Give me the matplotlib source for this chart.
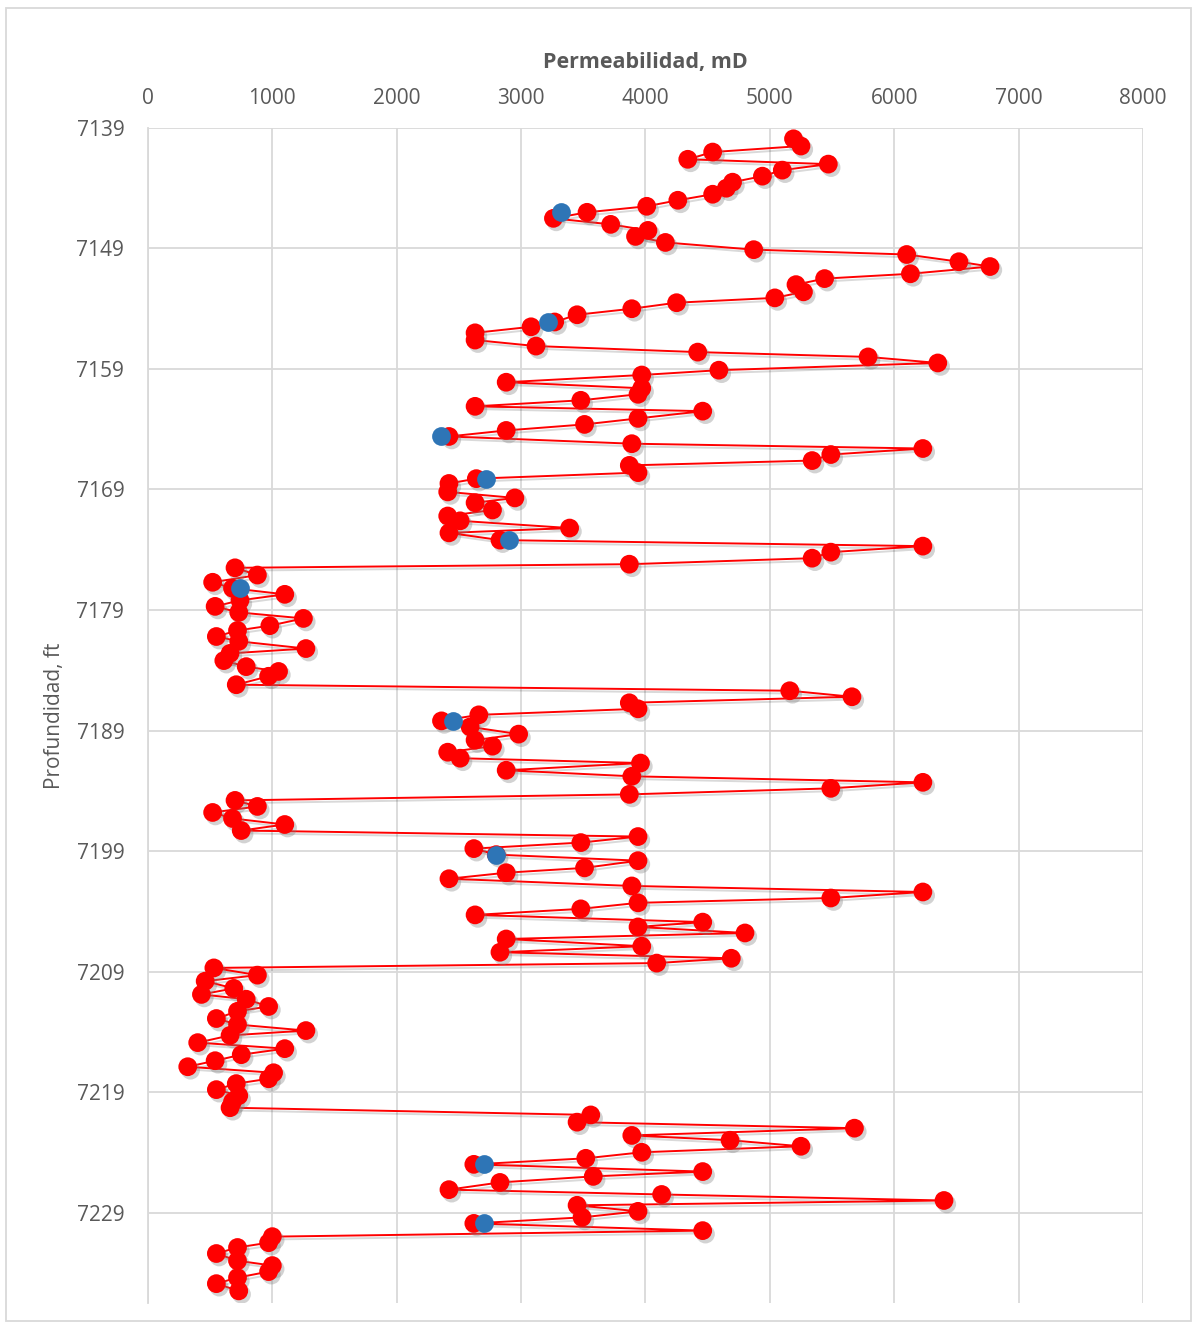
import matplotlib.pyplot as plt
import matplotlib.patheffects as pe
from matplotlib.patches import Rectangle

plt.rcParams['font.family'] = ['Open Sans', 'DejaVu Sans']

# profile data (red series)
prof = [7139.9, 7140.5, 7141.0, 7141.6, 7142.0, 7142.5, 7143.0, 7143.5, 7144.0, 7144.5,
        7145.0, 7145.5, 7146.0, 7146.5, 7147.0, 7147.5, 7148.0, 7148.5, 7149.1, 7149.5,
        7150.1, 7150.5, 7151.1, 7151.5, 7152.0, 7152.6, 7153.1, 7153.5, 7154.0, 7154.5,
        7155.1, 7155.5, 7156.0, 7156.6, 7157.1, 7157.6, 7158.0, 7158.5, 7159.1, 7159.5,
        7160.1, 7160.6, 7161.1, 7161.6, 7162.1, 7162.5, 7163.1, 7163.6, 7164.1, 7164.6,
        7165.2, 7165.6, 7166.1, 7166.6, 7167.0, 7167.6, 7168.1, 7168.5, 7169.2, 7169.7,
        7170.1, 7170.7, 7171.2, 7171.6, 7172.2, 7172.6, 7173.2, 7173.7, 7174.2, 7174.7,
        7175.2, 7175.5, 7176.1, 7176.7, 7177.2, 7177.7, 7178.2, 7178.7, 7179.2, 7179.7,
        7180.3, 7180.7, 7181.2, 7181.6, 7182.2, 7182.6, 7183.2, 7183.7, 7184.1, 7184.5,
        7185.2, 7185.7, 7186.2, 7186.7, 7187.2, 7187.7, 7188.2, 7188.7, 7189.3, 7189.8,
        7190.3, 7190.8, 7191.3, 7191.7, 7192.3, 7192.8, 7193.3, 7193.8, 7194.3, 7194.8,
        7195.3, 7195.8, 7196.3, 7196.8, 7197.3, 7197.8, 7198.3, 7198.8, 7199.3, 7199.8,
        7200.4, 7200.8, 7201.3, 7201.9, 7202.4, 7202.9, 7203.3, 7203.8, 7204.3, 7204.9,
        7205.3, 7205.8, 7206.3, 7206.9, 7207.4, 7207.9, 7208.3, 7208.7, 7209.3, 7209.8,
        7210.4, 7210.9, 7211.3, 7211.9, 7212.3, 7212.9, 7213.4, 7213.9, 7214.3, 7214.9,
        7215.4, 7215.9, 7216.4, 7216.9, 7217.4, 7217.9, 7218.3, 7218.8, 7219.3, 7219.8,
        7220.3, 7220.9, 7221.5, 7222.0, 7222.6, 7223.0, 7223.5, 7224.0, 7224.5, 7225.0,
        7225.6, 7226.0, 7226.5, 7227.1, 7227.5, 7228.0, 7228.4, 7228.9, 7229.4, 7229.9,
        7230.5, 7231.0, 7231.5, 7231.9, 7232.4, 7233.0, 7233.4, 7233.9, 7234.4, 7234.9,
        7235.5]

perm = [5190, 5250, 4540, 4340, 5470, 5100, 4940, 4700, 4650, 4540,
        4260, 4010, 3530, 3260, 3720, 4020, 3920, 4160, 4870, 6100,
        6520, 6770, 6130, 5440, 5210, 5270, 5040, 4250, 3890, 3450,
        3270, 3080, 2630, 2630, 3120, 4420, 5790, 6350, 4590, 3970,
        2880, 3970, 3940, 3480, 2630, 4460, 3940, 3510, 2880, 2420,
        3890, 6230, 5490, 5340, 3870, 3940, 2640, 2420, 2410, 2950,
        2630, 2770, 2410, 2510, 3390, 2420, 2830, 6230, 5490, 5340,
        3870, 700, 880, 520, 680, 1100, 740, 540, 730, 1250,
        980, 720, 550, 730, 1270, 660, 610, 790, 1050, 970,
        710, 5160, 5660, 3870, 3940, 2660, 2360, 2590, 2980, 2630,
        2770, 2410, 2510, 3960, 2880, 3890, 6230, 5490, 3870, 700,
        880, 520, 680, 1100, 750, 3940, 3480, 2620, 2800, 3940,
        3510, 2880, 2420, 3890, 6230, 5490, 3940, 3480, 2630, 4460,
        3940, 4800, 2880, 3970, 2830, 4690, 4090, 530, 880, 460,
        690, 430, 790, 970, 720, 550, 720, 1270, 660, 400,
        1100, 750, 540, 320, 1010, 970, 710, 550, 730, 680,
        660, 3560, 3450, 5680, 3890, 4680, 5250, 3970, 3520, 2620,
        4460, 3580, 2830, 2420, 4130, 6400, 3450, 3940, 3490, 2620,
        4460, 1000, 970, 720, 550, 720, 1000, 970, 720, 550,
        730]

# blue points
prof_b = [7146.0, 7155.1, 7164.6, 7168.1, 7173.2, 7177.2, 7188.2, 7199.3, 7225.0, 7229.9]
perm_b = [3320, 3220, 2360, 2720, 2900, 740, 2450, 2800, 2700, 2700]

xticks = [0, 1000, 2000, 3000, 4000, 5000, 6000, 7000, 8000]
yticks = [7139, 7149, 7159, 7169, 7179, 7189, 7199, 7209, 7219, 7229]

txt = '#595959'
grid = '#d9d9d9'

fig = plt.figure(figsize=(11.97, 13.26), dpi=100)
fig.patches.append(Rectangle((0.005, 0.004), 0.99, 0.99, transform=fig.transFigure,
                             fill=False, edgecolor=grid, linewidth=1.3))
ax = fig.add_axes([0.1236, 0.0174, 0.8313, 0.8861])

ax.plot(perm, prof, color='red', lw=1.4, zorder=3,
        path_effects=[pe.SimpleLineShadow(offset=(2, -2), alpha=0.15), pe.Normal()])
ax.plot(perm, prof, 'o', ls='none', color='red', ms=13.5, mec='none', zorder=4,
        path_effects=[pe.SimplePatchShadow(offset=(2, -2.5), shadow_rgbFace='#808080', alpha=0.35), pe.Normal()])
ax.plot(perm_b, prof_b, 'o', ls='none', color='#2E75B6', ms=13.5, mec='none', zorder=5)

ax.set_xlim(0, 8000)
ax.set_ylim(7236.5, 7139)
ax.set_xticks(xticks)
ax.set_yticks(yticks)
ax.xaxis.tick_top()
ax.xaxis.set_label_position('top')
ax.tick_params(length=0, labelsize=15, labelcolor=txt)
ax.tick_params(axis='x', pad=14)
ax.tick_params(axis='y', pad=17)

ax.grid(True, color=grid, lw=1.3)
ax.set_axisbelow(True)
for s in ['top', 'right', 'bottom']:
    ax.spines[s].set_visible(False)
ax.spines['left'].set_color(grid)
ax.spines['left'].set_linewidth(1.3)

ax.set_xlabel('Permeabilidad, mD', fontsize=15.5, fontweight='bold', color=txt, labelpad=14)
ax.set_ylabel('Profundidad, ft', fontsize=15, color=txt, labelpad=8)

fig.savefig('out.png', dpi=100)
